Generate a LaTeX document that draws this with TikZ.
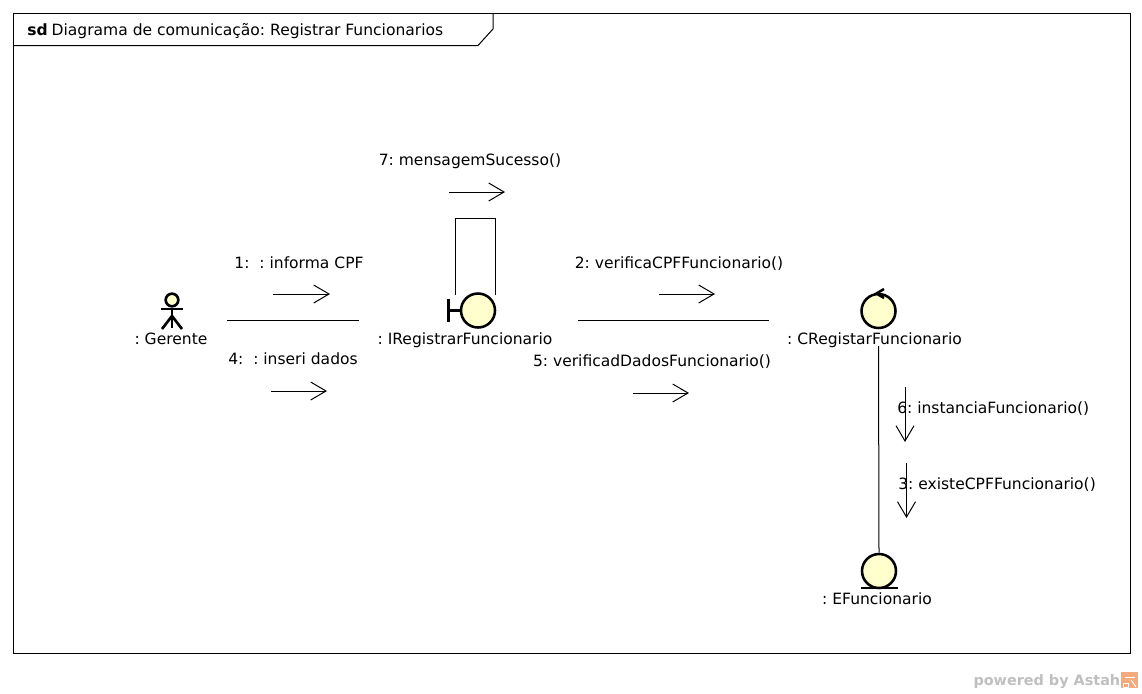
\documentclass[tikz,border=0pt]{standalone}
\usepackage{fontspec}
\setmainfont{DejaVu Sans}
\usetikzlibrary{positioning, arrows.meta}
\definecolor{lifefill}{RGB}{255,255,206}
\definecolor{astahorange}{RGB}{243,170,125}
\frenchspacing

\begin{document}
\begin{tikzpicture}[
      x=0.75pt, y=-0.75pt,
      >={Straight Barb[length=11.5pt, width=13.5pt]},
      objcircle/.style={
        circle, draw, line width=1.9pt, fill=lifefill,
        minimum size=25.5pt, inner sep=0pt,
      },
      objlabel/.style={font=\fontsize{11.65pt}{13pt}\selectfont, inner sep=0pt},
      msglabel/.style={font=\fontsize{11.65pt}{13pt}\selectfont, inner sep=0pt},
      link/.style={line width=0.75pt},
      msgarrow/.style={->, line width=0.75pt},
    ]
      \useasboundingbox (0,0) rectangle (1142,693);

      % frame
      \draw[line width=0.75pt] (13.5,13.5) rectangle (1130.5,653.5);
      \coordinate (tabtop) at (493,13.5);
      \coordinate (tabside) at (493,29);
      \coordinate (tabdiag) at (478,45.5);
      \coordinate (tableft) at (13.5,45.5);
      \draw[line width=0.75pt] (tabtop) -- (tabside) -- (tabdiag) -- (tableft);
      \node[msglabel, anchor=base west] (title) at (27,35.5) {\textbf{sd}\kern3pt Diagrama de comunicação: Registrar Funcionarios};

      % objects
      \node[circle, draw, line width=2pt, fill=lifefill, minimum size=9.5pt, inner sep=0pt] (gerentehead) at (172,300) {};
      \coordinate[below=15pt of gerentehead.south] (gerentehip);
      \draw[line width=2pt] (gerentehead.south) -- (gerentehip);
      \coordinate (gerentearml) at (161,309);
      \coordinate (gerentearmr) at (183,309);
      \coordinate (gerentefootl) at (162,329);
      \coordinate (gerentefootr) at (182,329);
      \coordinate (gerentecrotch) at (172,316);
      \draw[line width=2pt] (gerentearml) -- (gerentearmr);
      \draw[line width=2pt] (gerentefootl) -- (gerentecrotch) -- (gerentefootr);
      \node[objlabel, anchor=base] (gerente) at (171,344) {: Gerente};

      \node[objcircle] (iregistrar) at (478,310.5) {};
      \coordinate (boundbar) at (448.5,310.5);
      \draw[line width=2.1pt] (boundbar) -- (iregistrar.west);
      \draw[line width=2.1pt] ([yshift=8.5pt]boundbar) -- ([yshift=-8.5pt]boundbar);
      \node[objlabel, anchor=base] (iregistrarlabel) at (465,344) {: IRegistrarFuncionario};

      \node[objcircle] (cregistrar) at (878.5,311) {};
      \coordinate (ctrltip) at (876.5,293.5);
      \draw[line width=1.9pt] (884,289) -- (ctrltip) -- (884,298);
      \node[objlabel, anchor=base] (cregistrarlabel) at (874.5,344) {: CRegistarFuncionario};

      \node[objcircle] (efuncionario) at (879,571) {};
      \coordinate (entl) at (861,588);
      \coordinate (entr) at (898,588);
      \draw[line width=1.9pt] (entl) -- (entr);
      \node[objlabel, anchor=base] (efuncionariolabel) at (877,604) {: EFuncionario};

      % links
      \coordinate (linkaa) at (227,320.5);
      \coordinate (linkab) at (359,320.5);
      \coordinate (linkba) at (578,320.5);
      \coordinate (linkbb) at (769,320.5);
      \coordinate (linkca) at (878.5,346);
      \coordinate (loopa) at (455.5,295);
      \coordinate (loopb) at (455.5,218.5);
      \coordinate (loopc) at (495.5,218.5);
      \coordinate (loopd) at (495.5,295);
      \draw[link] (linkaa) -- (linkab);
      \draw[link] (linkba) -- (linkbb);
      \draw[link] (linkca) -- (efuncionario.north);
      \draw[link] (loopa) -- (loopb) -- (loopc) -- (loopd);

      % messages
      \node[msglabel, anchor=base] (msgsete) at (470,165) {7: mensagemSucesso()};
      \coordinate (setea) at (449,192);
      \coordinate (seteb) at (505,192);
      \draw[msgarrow] (setea) -- (seteb);

      \node[msglabel, anchor=base] (msgum) at (299,268) {1:\ \ : informa CPF};
      \coordinate (uma) at (273,294);
      \coordinate (umb) at (330,294);
      \draw[msgarrow] (uma) -- (umb);

      \node[msglabel, anchor=base] (msgquatro) at (293,364) {4:\ \ : inseri dados};
      \coordinate (quatroa) at (271,391);
      \coordinate (quatrob) at (327,391);
      \draw[msgarrow] (quatroa) -- (quatrob);

      \node[msglabel, anchor=base] (msgdois) at (679,268) {2: verificaCPFFuncionario()};
      \coordinate (doisa) at (659,294);
      \coordinate (doisb) at (715,294);
      \draw[msgarrow] (doisa) -- (doisb);

      \node[msglabel, anchor=base] (msgcinco) at (652,366) {5: verificadDadosFuncionario()};
      \coordinate (cincoa) at (633,393);
      \coordinate (cincob) at (689,393);
      \draw[msgarrow] (cincoa) -- (cincob);

      \coordinate (seisa) at (905,387);
      \coordinate (seisb) at (905,442);
      \draw[msgarrow] (seisa) -- (seisb);
      \node[msglabel, anchor=base west] (msgseis) at (897,413) {6: instanciaFuncionario()};

      \coordinate (tresa) at (906.5,463);
      \coordinate (tresb) at (906.5,518);
      \draw[msgarrow] (tresa) -- (tresb);
      \node[msglabel, anchor=base west] (msgtres) at (898,489) {3: existeCPFFuncionario()};

      % watermark
      \node[font=\fontsize{10.8pt}{12pt}\selectfont\bfseries, text=black!25, inner sep=0pt, anchor=base east] (powered) at (1120.5,685) {powered by Astah};
      \node[fill=astahorange, minimum size=12.5pt, inner sep=0pt, anchor=west] (astahicon) at (1121,680) {};
      \draw[white, line width=0.7pt] (1123,683) -- (1123,687) -- (1128,687) -- (1128,683) -- cycle;
      \draw[white, line width=0.7pt] (1125,677) -- (1135,677);
      \draw[white, line width=0.7pt] (1131,680) -- (1136,687);
    \end{tikzpicture}
\end{document}
